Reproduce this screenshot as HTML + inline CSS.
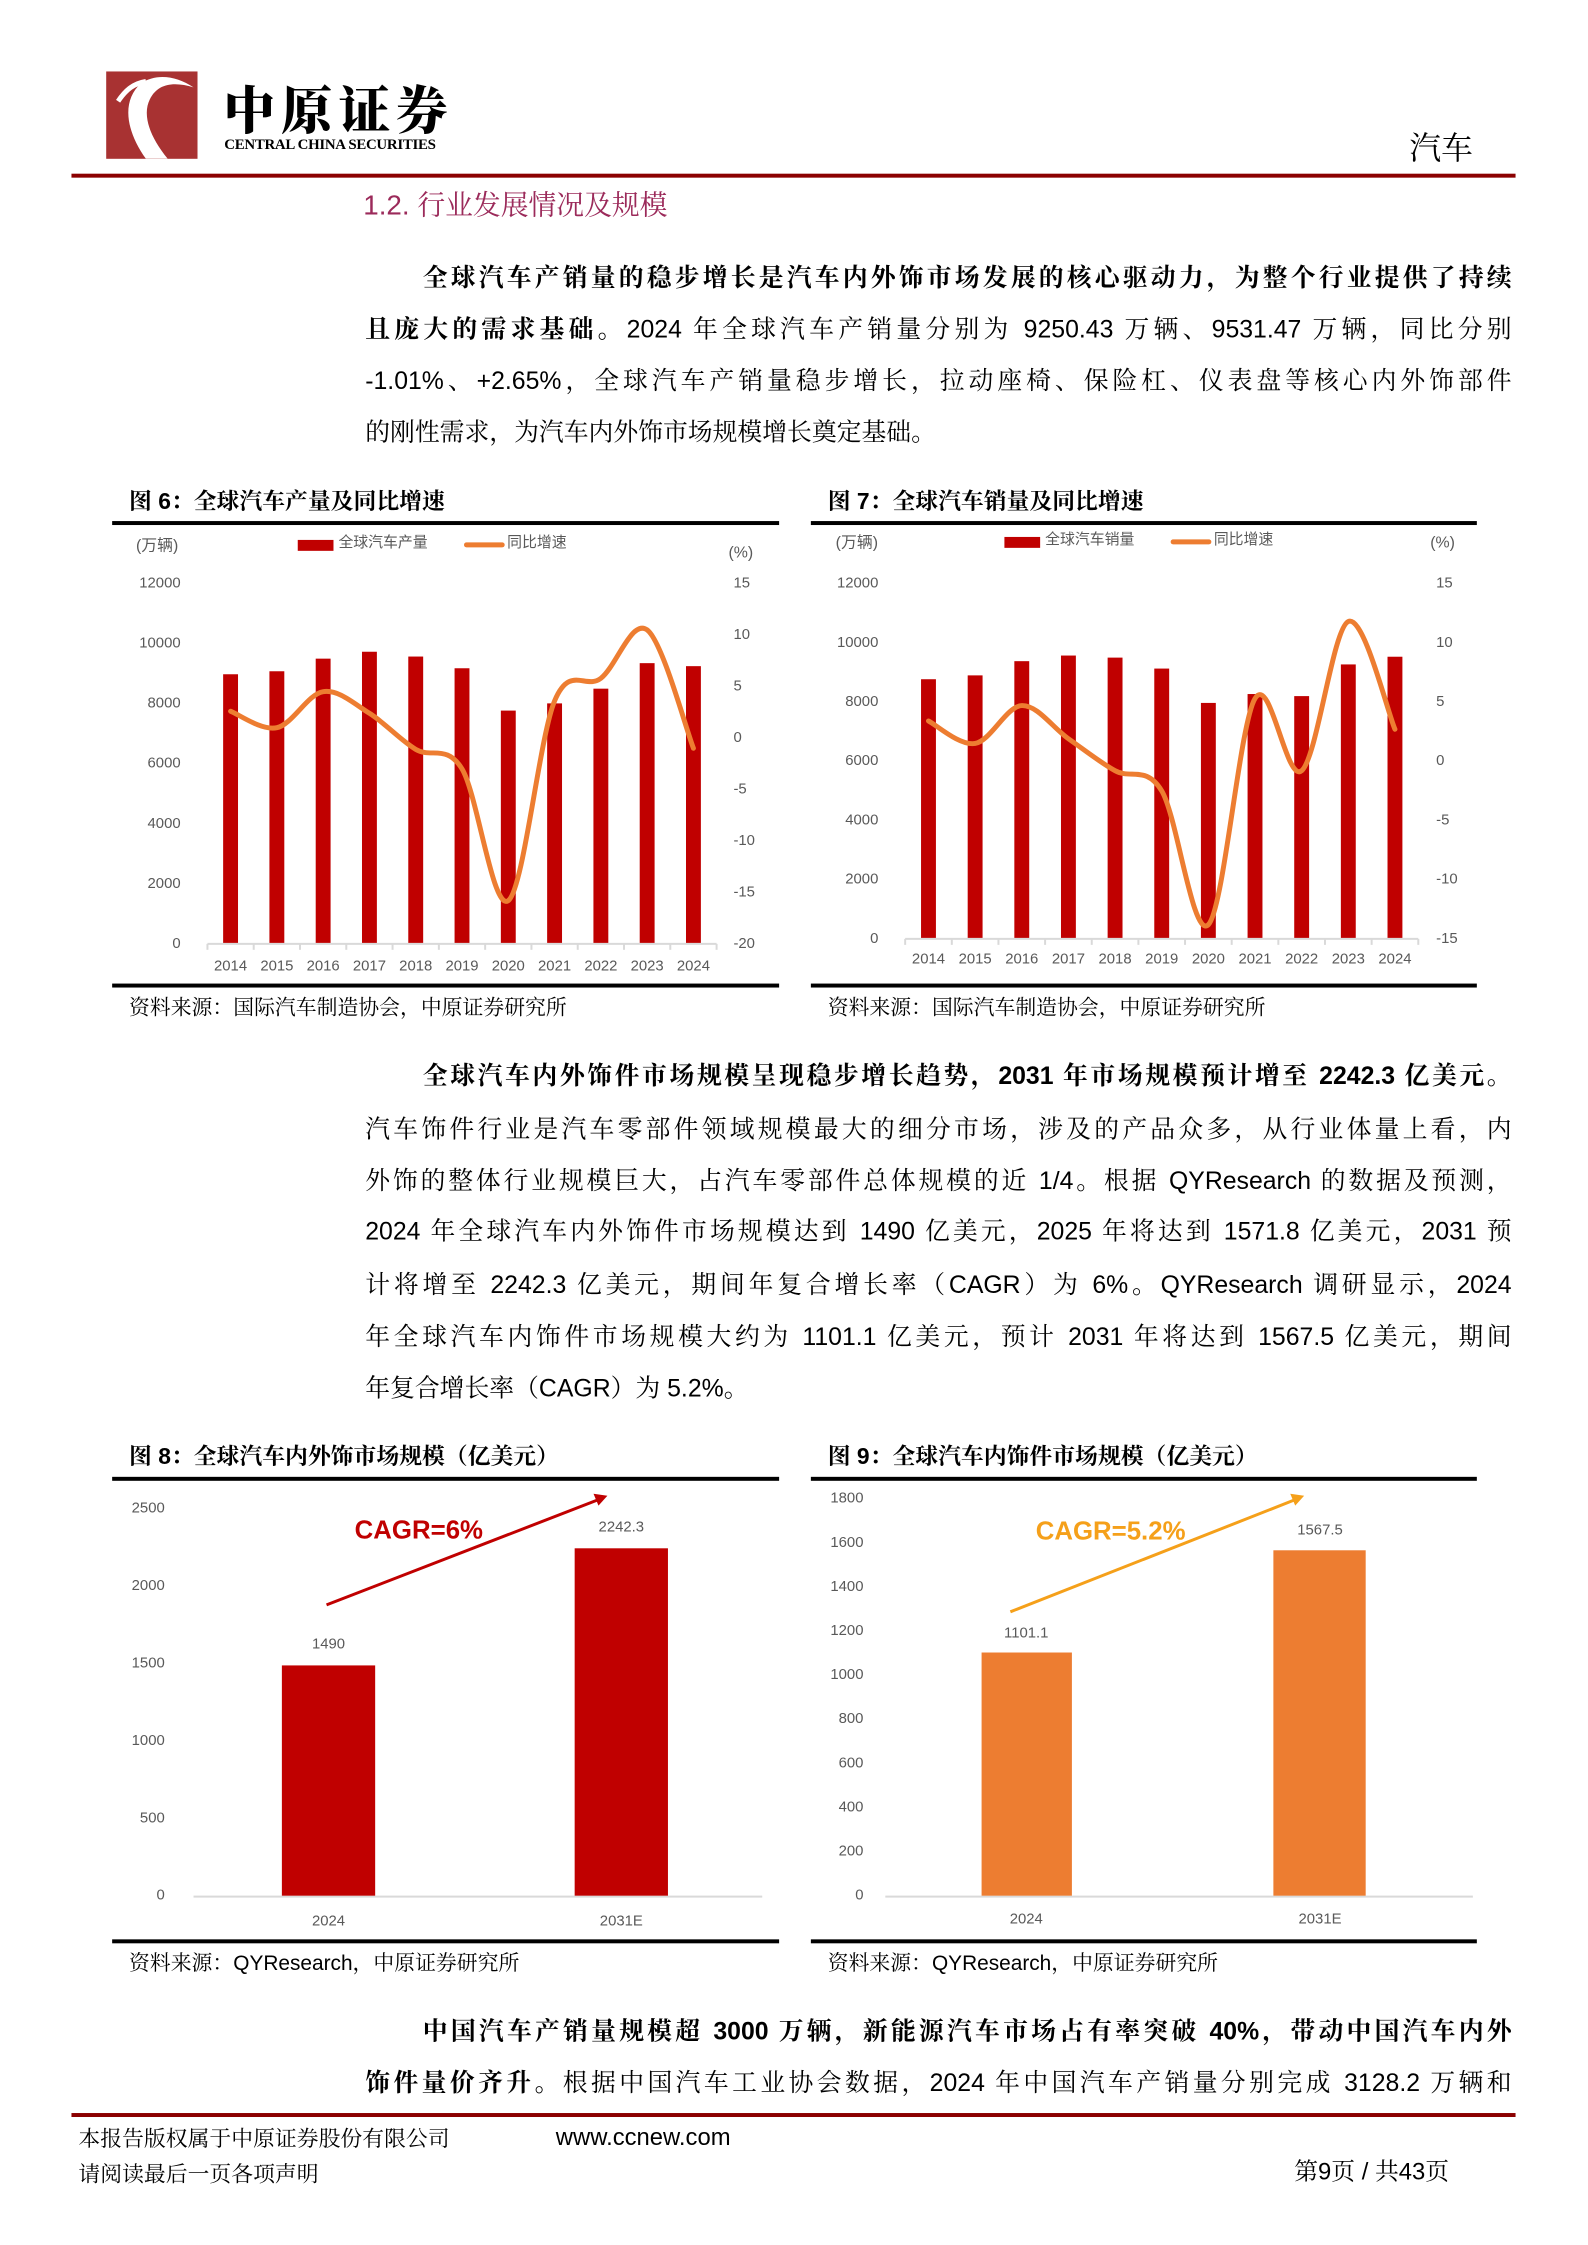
<!DOCTYPE html>
<html><head><meta charset="utf-8">
<style>
*{margin:0;padding:0;box-sizing:border-box}
body{width:1588px;height:2245px;background:#fff;position:relative;overflow:hidden;font-family:"Liberation Sans","Noto Serif CJK SC",serif;color:#000}
#wrap{position:absolute;left:0;top:0;width:1588px;height:2245px;transform:scale(0.9925);transform-origin:0 0}
.a{position:absolute;white-space:nowrap}
.ln{position:absolute;font-size:25px;line-height:34px;white-space:nowrap;text-align:justify;text-align-last:justify}
.ln b{font-weight:bold}
.nj{text-align:left;text-align-last:left}
.ttl{position:absolute;font-size:23px;font-weight:bold;line-height:30px;white-space:nowrap}
.src{position:absolute;font-size:21px;line-height:28px;white-space:nowrap}
.bar{position:absolute;height:4px;background:#000}
svg text{font-family:"Liberation Sans","Noto Sans CJK SC",sans-serif}
</style></head><body><div id="wrap">

<!-- header -->
<div class="a" style="left:107px;top:72px;width:92px;height:88px;background:#a83232"></div>
<svg class="a" style="left:107px;top:72px" width="92" height="88"><path d="M40 88 C20 60,15 30,35 12 C50 2,70 4,88 16 C68 10,52 12,44 28 C36 44,44 66,62 88 Z" fill="#fff"/><path d="M12 30 C20 18,28 12,40 10" stroke="#fff" stroke-width="5" fill="none"/></svg>
<div class="a" style="left:225px;top:80px;font-size:52px;font-weight:900;letter-spacing:6px;font-family:'Noto Serif CJK SC',serif;line-height:56px">中原证券</div>
<div class="a" style="left:226px;top:138px;font-size:15px;font-weight:bold;letter-spacing:-0.3px;line-height:16px;font-family:'Liberation Serif',serif">CENTRAL CHINA SECURITIES</div>
<div class="a" style="left:1420px;top:128px;font-size:32px;line-height:38px;font-family:'Noto Serif CJK SC',serif">汽车</div>
<div class="a" style="left:72px;top:175px;width:1455px;height:4px;background:#8b0000"></div>

<div class="a" style="left:366px;top:190px;font-size:28px;line-height:34px;color:#9b2a5a;font-family:'Liberation Sans','Noto Serif CJK SC',serif">1.2. 行业发展情况及规模</div>

<!-- para 1 -->
<div class="ln" style="left:426px;top:263px;width:1097px"><b>全球汽车产销量的稳步增长是汽车内外饰市场发展的核心驱动力，为整个行业提供了持续</b></div>
<div class="ln" style="left:368px;top:315px;width:1155px"><b>且庞大的需求基础。</b>2024 年全球汽车产销量分别为 9250.43 万辆、9531.47 万辆，同比分别</div>
<div class="ln" style="left:368px;top:367px;width:1155px">-1.01%、+2.65%，全球汽车产销量稳步增长，拉动座椅、保险杠、仪表盘等核心内外饰部件</div>
<div class="ln nj" style="left:368px;top:419px">的刚性需求，为汽车内外饰市场规模增长奠定基础。</div>

<!-- chart titles -->
<div class="ttl" style="left:130px;top:490px">图 6：全球汽车产量及同比增速</div>
<div class="bar" style="left:113px;top:525px;width:672px"></div>
<div class="ttl" style="left:834px;top:490px">图 7：全球汽车销量及同比增速</div>
<div class="bar" style="left:817px;top:525px;width:671px"></div>
<div class="bar" style="left:113px;top:991px;width:672px"></div>
<div class="bar" style="left:817px;top:991px;width:671px"></div>
<div class="src" style="left:130px;top:1002px">资料来源：国际汽车制造协会，中原证券研究所</div>
<div class="src" style="left:834px;top:1002px">资料来源：国际汽车制造协会，中原证券研究所</div>

<svg class="a" style="left:0;top:0" width="1588" height="2245" id="svg"></svg>

<!-- para 2 -->
<div class="ln" style="left:426px;top:1067px;width:1097px"><b>全球汽车内外饰件市场规模呈现稳步增长趋势，2031 年市场规模预计增至 2242.3 亿美元。</b></div>
<div class="ln" style="left:368px;top:1121px;width:1155px">汽车饰件行业是汽车零部件领域规模最大的细分市场，涉及的产品众多，从行业体量上看，内</div>
<div class="ln" style="left:368px;top:1173px;width:1155px">外饰的整体行业规模巨大，占汽车零部件总体规模的近 1/4。根据 QYResearch 的数据及预测，</div>
<div class="ln" style="left:368px;top:1224px;width:1155px">2024 年全球汽车内外饰件市场规模达到 1490 亿美元，2025 年将达到 1571.8 亿美元，2031 预</div>
<div class="ln" style="left:368px;top:1278px;width:1155px">计将增至 2242.3 亿美元，期间年复合增长率（CAGR）为 6%。QYResearch 调研显示，2024</div>
<div class="ln" style="left:368px;top:1330px;width:1155px">年全球汽车内饰件市场规模大约为 1101.1 亿美元，预计 2031 年将达到 1567.5 亿美元，期间</div>
<div class="ln nj" style="left:368px;top:1382px">年复合增长率（CAGR）为 5.2%。</div>

<div class="ttl" style="left:130px;top:1452px">图 8：全球汽车内外饰市场规模（亿美元）</div>
<div class="bar" style="left:113px;top:1488px;width:672px"></div>
<div class="ttl" style="left:834px;top:1452px">图 9：全球汽车内饰件市场规模（亿美元）</div>
<div class="bar" style="left:817px;top:1488px;width:671px"></div>
<div class="bar" style="left:113px;top:1954px;width:672px"></div>
<div class="bar" style="left:817px;top:1954px;width:671px"></div>
<div class="src" style="left:130px;top:1965px">资料来源：QYResearch，中原证券研究所</div>
<div class="src" style="left:834px;top:1965px">资料来源：QYResearch，中原证券研究所</div>

<!-- para 3 -->
<div class="ln" style="left:426px;top:2030px;width:1097px"><b>中国汽车产销量规模超 3000 万辆，新能源汽车市场占有率突破 40%，带动中国汽车内外</b></div>
<div class="ln" style="left:368px;top:2082px;width:1155px"><b>饰件量价齐升。</b>根据中国汽车工业协会数据，2024 年中国汽车产销量分别完成 3128.2 万辆和</div>

<!-- footer -->
<div class="a" style="left:72px;top:2129px;width:1455px;height:4px;background:#8b0000"></div>
<div class="a" style="left:79px;top:2140px;font-size:22px;line-height:28px;font-family:'Noto Serif CJK SC',serif">本报告版权属于中原证券股份有限公司</div>
<div class="a" style="left:560px;top:2140px;font-size:24px;line-height:28px">www.ccnew.com</div>
<div class="a" style="left:79px;top:2176px;font-size:22px;line-height:28px;font-family:'Noto Serif CJK SC',serif">请阅读最后一页各项声明</div>
<div class="a" style="left:1304px;top:2175px;font-size:24px;line-height:28px;font-family:'Liberation Sans','Noto Serif CJK SC',serif">第9页 / 共43页</div>

<script>
var s=document.getElementById('svg'),h='';
function T(x,y,t,o){o=o||{};h+='<text x="'+x+'" y="'+y+'" font-size="'+(o.fs||15)+'" fill="'+(o.c||'#595959')+'" text-anchor="'+(o.a||'middle')+'"'+(o.w?' font-weight="bold"':'')+' dominant-baseline="central">'+t+'</text>';}
function R(x,y,w,hh,c){h+='<rect x="'+x+'" y="'+y+'" width="'+w+'" height="'+hh+'" fill="'+c+'"/>';}
function curve(p){var d='M'+p[0][0]+' '+p[0][1];for(var i=0;i<p.length-1;i++){var p0=p[i-1]||p[i],p1=p[i],p2=p[i+1],p3=p[i+2]||p2;var c1x=p1[0]+(p2[0]-p0[0])/6,c1y=p1[1]+(p2[1]-p0[1])/6,c2x=p2[0]-(p3[0]-p1[0])/6,c2y=p2[1]-(p3[1]-p1[1])/6;d+=' C'+c1x+' '+c1y+','+c2x+' '+c2y+','+p2[0]+' '+p2[1];}return d;}
function combo(o){
 var yrs=[2014,2015,2016,2017,2018,2019,2020,2021,2022,2023,2024],n=11,cw=(o.x1-o.x0)/n,pts=[];
 for(var k=0;k<=6;k++){T(o.lx,o.y0-(o.y0-o.ytop)*k/6,2000*k,{a:'end'});}
 var rn=(o.rmax-o.rmin)/5;
 for(var k=0;k<=rn;k++){var v=o.rmin+5*k;T(o.rx,o.y0-(o.y0-o.ytop)*k/rn,v,{a:'start'});}
 for(var i=0;i<n;i++){var cx=o.x0+cw*(i+.5),v=o.bars[i],yy=o.y0-v/12000*(o.y0-o.ytop);R(cx-7.5,yy,15,o.y0-yy,'#c00000');T(cx,o.xly,yrs[i]);
  pts.push([cx,o.y0-(o.g[i]-o.rmin)/(o.rmax-o.rmin)*(o.y0-o.ytop)]);}
 h+='<line x1="'+o.x0+'" y1="'+o.y0+'" x2="'+o.x1+'" y2="'+o.y0+'" stroke="#d9d9d9" stroke-width="2"/>';
 for(var i=0;i<=n;i++){var x=o.x0+cw*i;h+='<line x1="'+x+'" y1="'+o.y0+'" x2="'+x+'" y2="'+(o.y0+6)+'" stroke="#d9d9d9" stroke-width="2"/>';}
 h+='<path d="'+curve(pts)+'" stroke="#ed7d31" stroke-width="5" fill="none" stroke-linecap="round"/>';
 T(o.wl,o.ly,'(万辆)',{fs:16,a:'start'});
 R(o.lg,o.ly-6,36,11,'#c00000');T(o.lg+41,o.ly-3,o.name,{fs:15,a:'start'});
 h+='<line x1="'+(o.lg+170)+'" y1="'+(o.ly-1)+'" x2="'+(o.lg+206)+'" y2="'+(o.ly-1)+'" stroke="#ed7d31" stroke-width="5" stroke-linecap="round"/>';
 T(o.lg+211,o.ly-3,'同比增速',{fs:15,a:'start'});
 T(o.pc,o.pcy,'(%)',{fs:16,a:'start'});
}
combo({x0:209,x1:722,y0:951,ytop:588,lx:182,rx:739,xly:974,rmin:-20,rmax:15,
 bars:[8980,9080,9500,9730,9570,9180,7770,8010,8500,9350,9250],
 g:[2.6,1.0,4.5,2.4,-1.1,-3.0,-15.8,3.6,5.8,10.5,-1.0],
 wl:137,ly:550,lg:300,name:'全球汽车产量',pc:734,pcy:557});
combo({x0:912,x1:1429,y0:946,ytop:588,lx:885,rx:1447,xly:967,rmin:-15,rmax:15,
 bars:[8770,8900,9380,9570,9500,9130,7970,8270,8200,9270,9530],
 g:[3.4,1.5,4.7,1.9,-0.8,-2.5,-13.8,5.3,-0.8,11.8,2.7],
 wl:842,ly:547,lg:1012,name:'全球汽车销量',pc:1441,pcy:547});
for(var k=0;k<=5;k++)T(166,1910-78*k,500*k,{a:'end'});
h+='<line x1="195" y1="1911" x2="768" y2="1911" stroke="#d9d9d9" stroke-width="2"/>';
R(284,1678,94,232,'#c00000');R(579,1560,94,350,'#c00000');
T(331,1657,'1490');T(626,1539,'2242.3');T(331,1936,'2024');T(626,1936,'2031E');
h+='<line x1="329" y1="1617" x2="603" y2="1511" stroke="#c00000" stroke-width="3"/><polygon points="612,1507 598,1505 603,1517" fill="#c00000"/>';
T(422,1542,'CAGR=6%',{fs:26,c:'#c00000',w:1});
for(var k=0;k<=9;k++)T(870,1910-44.44*k,200*k,{a:'end'});
h+='<line x1="892" y1="1911" x2="1484" y2="1911" stroke="#d9d9d9" stroke-width="2"/>';
R(989,1665,91,245,'#ed7d31');R(1283,1562,93,348,'#ed7d31');
T(1034,1646,'1101.1');T(1330,1542,'1567.5');T(1034,1934,'2024');T(1330,1934,'2031E');
h+='<line x1="1018" y1="1624" x2="1305" y2="1511" stroke="#f5a01a" stroke-width="3"/><polygon points="1314,1507 1300,1505 1305,1517" fill="#f5a01a"/>';
T(1119,1543,'CAGR=5.2%',{fs:26,c:'#f5a01a',w:1});
s.innerHTML=h;
</script>
</div></body></html>
